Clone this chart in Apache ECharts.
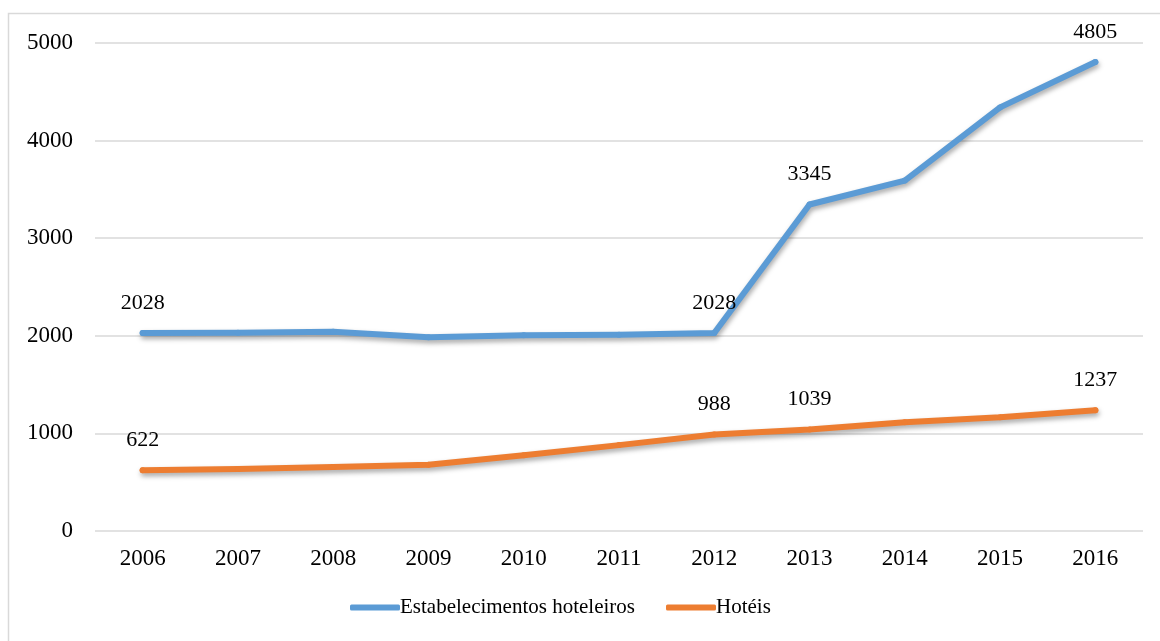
<!DOCTYPE html>
<html>
<head>
<meta charset="utf-8">
<script src="https://cdn.jsdelivr.net/npm/echarts@6/dist/echarts.min.js"></script>
<style>
  html, body { margin: 0; padding: 0; background: #fff; }
  #chart { width: 1160px; height: 641px; }
</style>
</head>
<body>
<div id="chart"></div>
<script>
// data
var years = ['2006', '2007', '2008', '2009', '2010', '2011', '2012', '2013', '2014', '2015', '2016'];
var estabelecimentos = [2028, 2030, 2042, 1985, 2005, 2012, 2028, 3345, 3590, 4340, 4805];
var hoteis = [622, 635, 655, 678, 775, 880, 988, 1039, 1115, 1165, 1237];
// which points carry a value label
var estabLabelled = [0, 6, 7, 10];
var hoteisLabelled = [0, 6, 7, 10];

var font = '"Liberation Serif", "Times New Roman", serif';

function toData(values, labelled) {
    return values.map(function(v, i) {
        return {
            value: v,
            label: { show: labelled.indexOf(i) !== -1 }
        };
    });
}

var lineShadow = {
    width: 6,
    cap: 'round',
    join: 'round',
    shadowColor: 'rgba(0,0,0,0.35)',
    shadowBlur: 5,
    shadowOffsetX: 1,
    shadowOffsetY: 3
};

var pointLabel = {
    position: 'top',
    distance: 16,
    fontFamily: font,
    fontSize: 22,
    color: '#000'
};

var dom = document.getElementById('chart');
var myChart = echarts.init(dom);
var option = {
    animation: false,
    backgroundColor: '#fff',
    textStyle: { fontFamily: font },
    graphic: [{
        type: 'rect',
        shape: { x: 8.5, y: 13.5, width: 1170, height: 650 },
        style: { fill: 'none', stroke: '#d9d9d9', lineWidth: 1.5 },
        silent: true
    }],
    grid: {
        left: 95,
        right: 17,
        top: 43,
        bottom: 110
    },
    legend: {
        bottom: 18,
        left: 345,
        itemWidth: 50,
        itemHeight: 6,
        itemGap: 31,
        icon: 'roundRect',
        textStyle: { fontFamily: font, fontSize: 21, color: '#000', padding: [0, 0, 0, -5] },
        data: ['Estabelecimentos hoteleiros', 'Hotéis']
    },
    xAxis: {
        type: 'category',
        data: years,
        boundaryGap: true,
        axisLine: { show: false },
        axisTick: { show: false },
        axisLabel: { fontFamily: font, fontSize: 23, color: '#000', margin: 16 }
    },
    yAxis: {
        type: 'value',
        min: 0,
        max: 5000,
        interval: 1000,
        axisLine: { show: false },
        axisTick: { show: false },
        axisLabel: {
            fontFamily: font, fontSize: 23, color: '#000', margin: 22,
            formatter: function(v) { return String(v); }
        },
        splitLine: { lineStyle: { color: '#d9d9d9', width: 1.5 } }
    },
    series: [
        {
            name: 'Estabelecimentos hoteleiros',
            type: 'line',
            data: toData(estabelecimentos, estabLabelled),
            symbol: 'circle',
            symbolSize: 6,
            showSymbol: true,
            itemStyle: { color: '#5b9bd5', borderWidth: 0 },
            color: '#5b9bd5',
            lineStyle: lineShadow,
            label: pointLabel
        },
        {
            name: 'Hotéis',
            type: 'line',
            data: toData(hoteis, hoteisLabelled),
            symbol: 'circle',
            symbolSize: 6,
            showSymbol: true,
            itemStyle: { color: '#ed7d31', borderWidth: 0 },
            color: '#ed7d31',
            lineStyle: lineShadow,
            label: pointLabel
        }
    ]
};

if (option && typeof option === 'object') {
    myChart.setOption(option);
}
</script>
</body>
</html>
